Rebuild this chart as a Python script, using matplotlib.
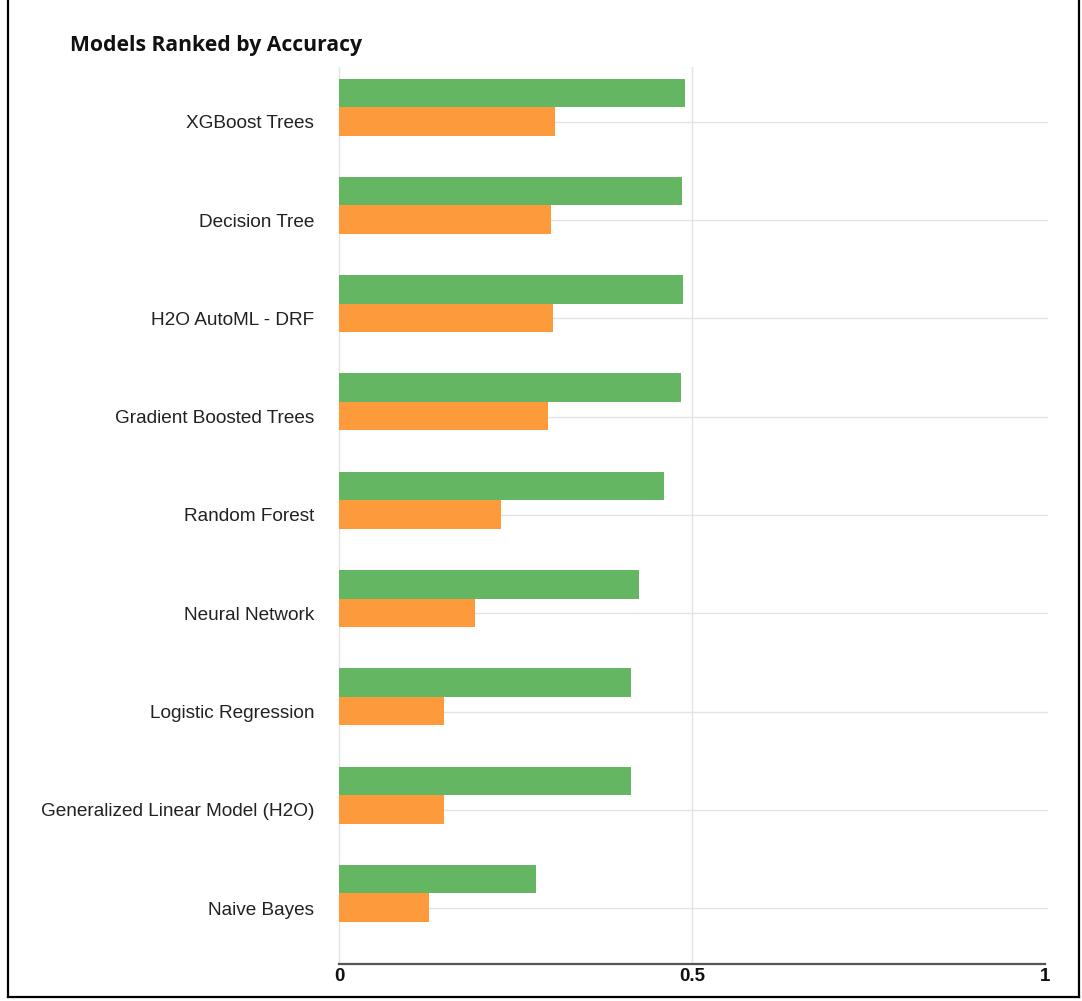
import numpy as np
import matplotlib
matplotlib.use('Agg')
import matplotlib.pyplot as plt
from matplotlib.lines import Line2D

# model accuracy scores, top to bottom
models = ['XGBoost Trees', 'Decision Tree', 'H2O AutoML - DRF',
          'Gradient Boosted Trees', 'Random Forest', 'Neural Network',
          'Logistic Regression', 'Generalized Linear Model (H2O)',
          'Naive Bayes']
green_vals = [0.490, 0.486, 0.487, 0.484, 0.461, 0.425, 0.413, 0.413, 0.279]
orange_vals = [0.306, 0.300, 0.303, 0.296, 0.229, 0.193, 0.149, 0.149, 0.127]
xtick_vals = [0, 0.5, 1]
xtick_labels = ['0', '0.5', '1']

GREEN = '#64b662'
ORANGE = '#fd9a3b'
GRID = '#e4e4e4'

W, H = 1082, 1001
fig = plt.figure(figsize=(W / 100, H / 100), dpi=100)

# axes box in pixels
left, right, top, bottom = 339, 1045, 67, 964
ax = fig.add_axes([left / W, 1 - bottom / H, (right - left) / W, (bottom - top) / H])

y = np.arange(len(models))
bh = 0.29
ax.barh(y - bh / 2, green_vals, height=bh, color=GREEN, zorder=3)
ax.barh(y + bh / 2, orange_vals, height=bh, color=ORANGE, zorder=3)

ax.set_xlim(0, 1)
ax.set_ylim(8.718, -0.407)

# category labels sit level with the lower bar
label_pos = y + 0.15
ax.set_yticks(label_pos)
ax.set_yticklabels(models, fontsize=13.7, color='#222222',
                   family=['Liberation Sans', 'DejaVu Sans'])
ax.tick_params(axis='y', length=0, pad=18)
for yy in label_pos:
    ax.axhline(yy, xmin=0, xmax=1.003, color=GRID, lw=1, zorder=1,
               clip_on=False)

ax.set_xticks(xtick_vals)
ax.set_xticklabels(xtick_labels, fontsize=13.5, color='#111111',
                   fontweight='bold', family=['Liberation Sans Narrow', 'Liberation Sans'])
ax.tick_params(axis='x', length=0, pad=3)
ax.axvline(0.5, color=GRID, lw=1, zorder=1)

for s in ['top', 'right']:
    ax.spines[s].set_visible(False)
ax.spines['left'].set_color(GRID)
ax.spines['left'].set_linewidth(1)
ax.spines['bottom'].set_color('#555555')
ax.spines['bottom'].set_linewidth(1.6)
ax.spines['bottom'].set_zorder(4)

fig.text(70 / W, 1 - 46 / H, 'Models Ranked by Accuracy', fontsize=15.2,
         fontweight='bold', color='#111111', va='center', ha='left',
         family=['Open Sans', 'DejaVu Sans'])

# black frame on left, right and bottom
frame_kw = dict(color='black', lw=1.6, transform=fig.transFigure)
fig.add_artist(Line2D([8 / W, 8 / W], [1, 1 - 997 / H], **frame_kw))
fig.add_artist(Line2D([1079 / W, 1079 / W], [1, 1 - 997 / H], **frame_kw))
fig.add_artist(Line2D([8 / W, 1079 / W], [1 - 997 / H, 1 - 997 / H], **frame_kw))

fig.savefig('out.png', dpi=100)
